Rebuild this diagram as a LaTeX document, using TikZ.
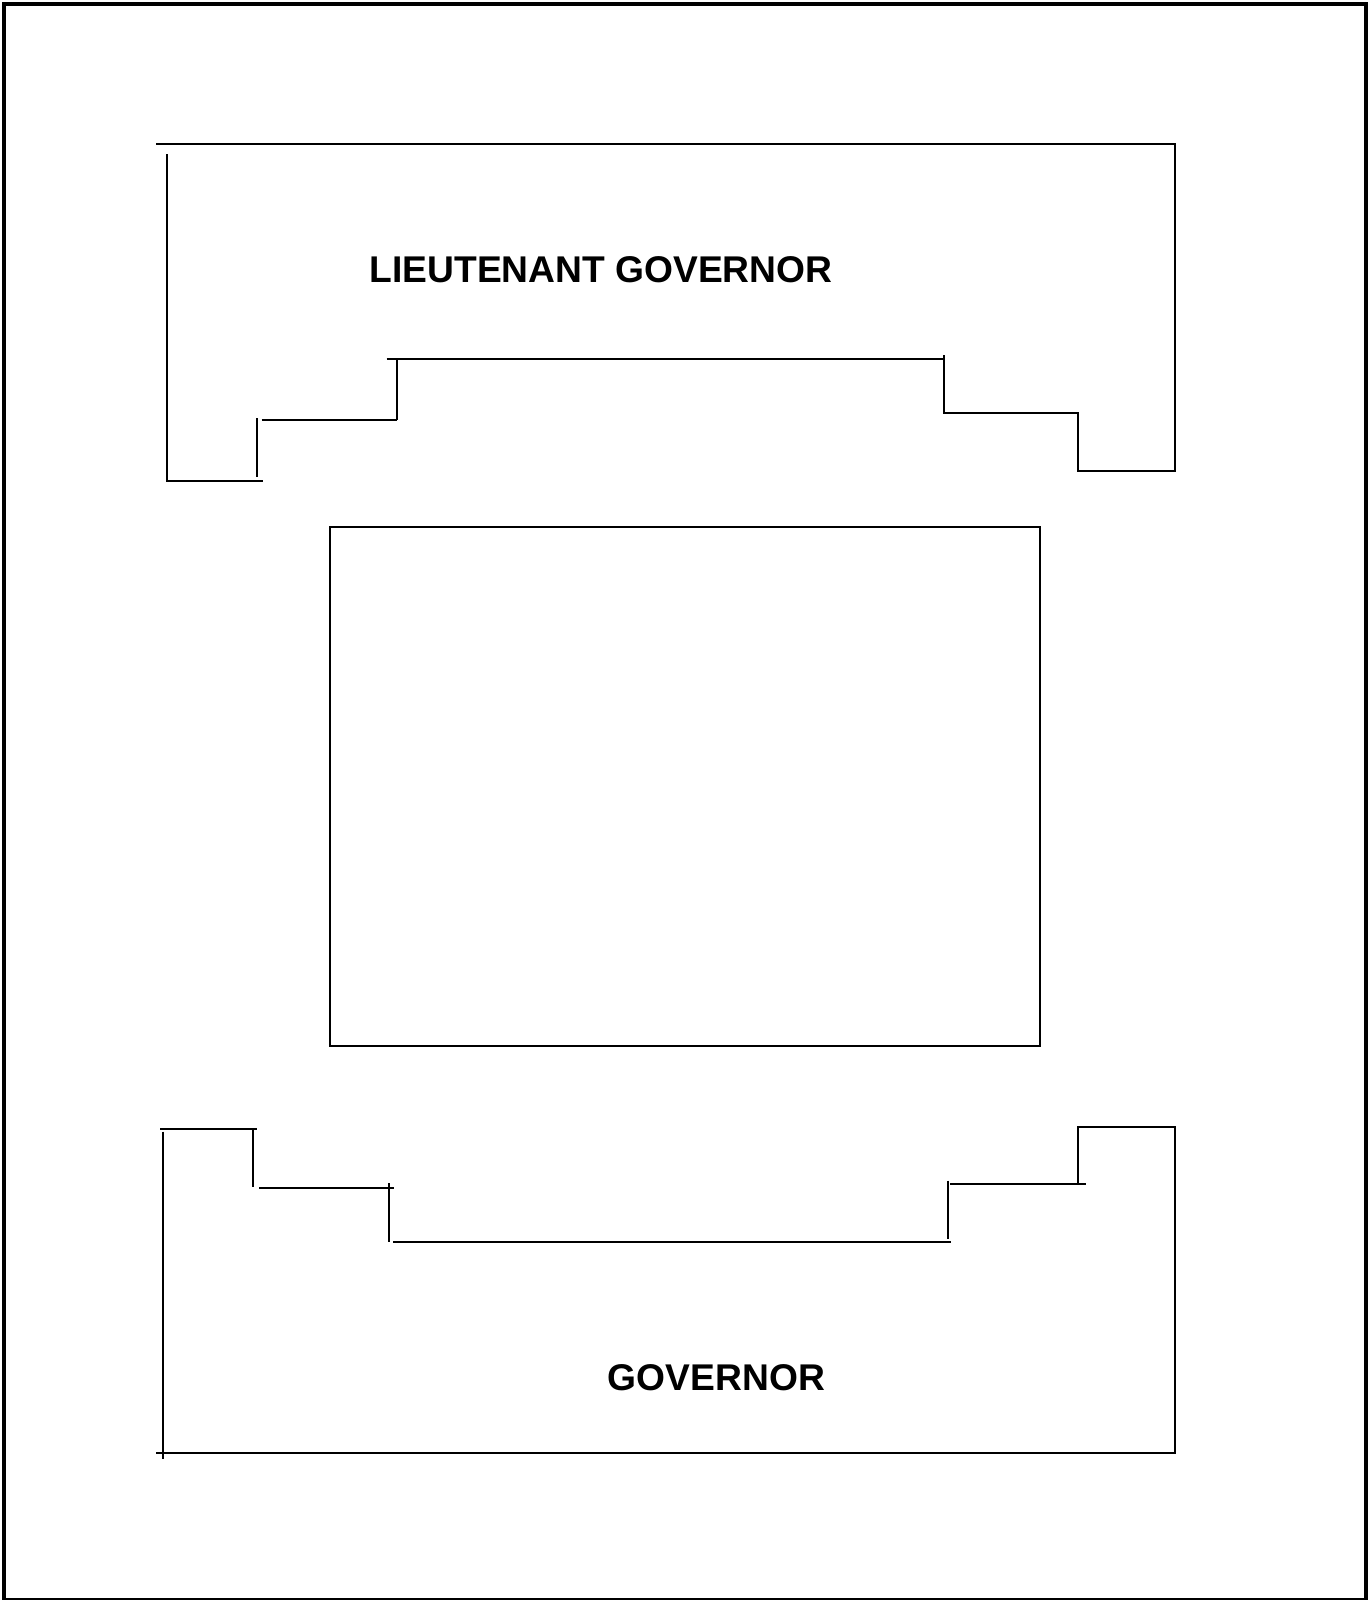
\documentclass[tikz,border=0pt]{standalone}
\usepackage{fontspec}
\setmainfont{Liberation Sans}
\begin{document}
\begin{tikzpicture}[x=1pt,y=-1pt,
  ln/.style={line width=2pt, line cap=butt},
  lbl/.style={inner sep=0pt, font=\fontsize{37.2}{44}\selectfont\bfseries}]
\useasboundingbox (0,0) rectangle (1371,1600);
% outer border
\draw[line width=4pt] (4,4) rectangle (1366,1600);
% top shape
\draw[ln] (156,144) -- (1175,144) -- (1175,470.7) -- (1078.3,470.7) -- (1078.3,412.7) -- (944,412.7) -- (944,355);
\draw[ln] (386.7,358.7) -- (944,358.7);
\draw[ln] (396.7,359) -- (396.7,420);
\draw[ln] (261.7,420) -- (396.7,420);
\draw[ln] (256.7,418) -- (256.7,477);
\draw[ln] (166.7,154) -- (166.7,480.7) -- (263,480.7);
% middle rectangle
\draw[ln] (329.5,527.4) rectangle (1039.5,1045.6);
% bottom shape
\draw[ln] (160,1129) -- (257.3,1129);
\draw[ln] (253.3,1129) -- (253.3,1187.3);
\draw[ln] (259,1188.3) -- (394.3,1188.3);
\draw[ln] (389.3,1183.3) -- (389.3,1242.3);
\draw[ln] (393.3,1241.7) -- (951,1241.7);
\draw[ln] (948,1180.7) -- (948,1239);
\draw[ln] (950,1184.3) -- (1085.7,1184.3);
\draw[ln] (1078.3,1184.3) -- (1078.3,1126.7) -- (1175,1126.7) -- (1175,1453.3) -- (156,1453.3);
\draw[ln] (163.3,1131.7) -- (163.3,1459.3);
% labels
\node[lbl] (lg) at (601,270) {LIEUTENANT GOVERNOR};
\node[lbl] (gov) at (716.5,1378) {GOVERNOR};
\end{tikzpicture}
\end{document}
